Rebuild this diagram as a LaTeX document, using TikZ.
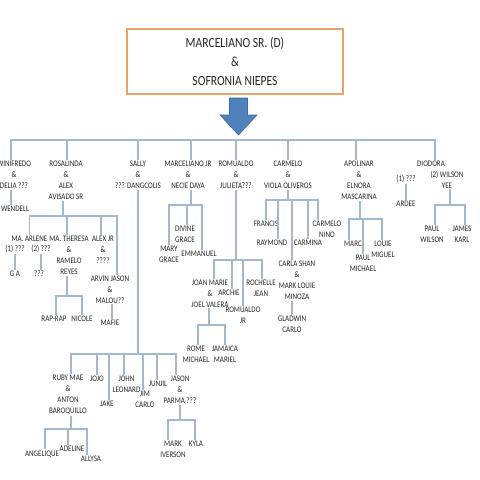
\documentclass[tikz,border=0pt]{standalone}
\usepackage{fontspec}
\setmainfont{Carlito}[FakeStretch=0.83]
\definecolor{linec}{HTML}{A2B8CE}
\definecolor{txtc}{HTML}{262626}
\definecolor{boxc}{HTML}{E8A56A}
\definecolor{arrf}{HTML}{4F81BD}
\definecolor{arrd}{HTML}{3B6AA0}
\begin{document}
\begin{tikzpicture}[x=1pt,y=-1pt,
  lbl/.style={font=\fontsize{8.5}{11}\selectfont, align=center, inner sep=1pt, text=txtc},
  conn/.style={draw=linec, line width=1.1pt}]
\useasboundingbox (0,0) rectangle (480,480);
\fill[white] (0,0) rectangle (480,480);

% top couple
\node[draw=boxc, line width=1.3pt, minimum width=216pt, minimum height=65pt, align=center,
      text=txtc, font=\fontsize{14}{19}\selectfont] (top) at (235,61.5)
      {MARCELIANO SR. (D)\\\&\\SOFRONIA NIEPES};
\fill[arrf, draw=arrd, line width=0.6pt] (229.5,98) -- (247.5,98) -- (247.5,115) -- (257,115)
      -- (238.5,135) -- (220,115) -- (229.5,115) -- cycle;

% first generation
\node[lbl] (win) at (14,175) {WINIFREDO\\\&\\DELIA ???};
\node[lbl] (ros) at (66,180.5) {ROSALINDA\\\&\\ALEX\\AVISADO SR};
\node[lbl] (sal) at (138,175) {SALLY\\\&\\??? DANGCOLIS};
\node[lbl] (mjr) at (188,175) {MARCELIANO JR\\\&\\NECIE DAYA};
\node[lbl] (rom) at (236,175) {ROMUALDO\\\&\\JULIETA???};
\node[lbl] (car) at (288,175) {CARMELO\\\&\\VIOLA OLIVEROS};
\node[lbl] (apo) at (359,180.5) {APOLINAR\\\&\\ELNORA\\MASCARINA};
\node[lbl] (dio) at (431,164) {DIODORA};
\node[lbl] (d1) at (406,179) {(1) ???};
\node[lbl] (d2) at (447,179.5) {(2) WILSON\\YEE};

% Winifredo
\node[lbl] (wendell) at (15,209) {WENDELL};
% Rosalinda
\node[lbl] (arl) at (29.5,239) {MA. ARLENE};
\node[lbl] (a1) at (15,249) {(1) ???};
\node[lbl] (a2) at (41,249) {(2) ???};
\node[lbl] (ga) at (15,274) {G A};
\node[lbl] (aq) at (39,274) {???};
\node[lbl] (the) at (69,255.5) {MA. THERESA\\\&\\RAMELO\\REYES};
\node[lbl] (ajr) at (103,249.5) {ALEX JR\\\&\\????};
\node[lbl] (arv) at (110,289.5) {ARVIN JASON\\\&\\MALOU??};
\node[lbl] (mafie) at (110,323) {MAFIE};
\node[lbl] (rap) at (54,319) {RAP-RAP};
\node[lbl] (nic) at (82,319) {NICOLE};
% Sally
\node[lbl] (ruby) at (68,395) {RUBY MAE\\\&\\ANTON\\BAROQUILLO};
\node[lbl] (jojo) at (97,379) {JOJO};
\node[lbl] (jake) at (107,404) {JAKE};
\node[lbl] (john) at (126.5,384.5) {JOHN\\LEONARD};
\node[lbl] (jim) at (145,399) {JIM\\CARLO};
\node[lbl] (junjil) at (158,384) {JUNJIL};
\node[lbl] (jason) at (180,390) {JASON\\\&\\PARMA ???};
\node[lbl] (angel) at (42,454) {ANGELIQUE};
\node[lbl] (adel) at (72,449) {ADELINE};
\node[lbl] (ally) at (91,459) {ALLYSA};
\node[lbl] (mark) at (173,449.5) {MARK\\IVERSON};
\node[lbl] (kyla) at (196,444) {KYLA};
% Marceliano Jr
\node[lbl] (divine) at (185,234.5) {DIVINE\\GRACE};
\node[lbl] (mary) at (169,254.5) {MARY\\GRACE};
\node[lbl] (emm) at (199,254) {EMMANUEL};
% Romualdo
\node[lbl] (joan) at (210,293.5) {JOAN MARIE\\\&\\JOEL VALERA};
\node[lbl] (archie) at (229,293) {ARCHIE};
\node[lbl] (romjr) at (243,315) {ROMUALDO\\JR};
\node[lbl] (roch) at (261,288) {ROCHELLE\\JEAN};
\node[lbl] (rome) at (196,354) {ROME\\MICHAEL};
\node[lbl] (jam) at (225,354) {JAMAICA\\MARIEL};
% Carmelo
\node[lbl] (francis) at (266,224) {FRANCIS};
\node[lbl] (raymond) at (272,243) {RAYMOND};
\node[lbl] (carla) at (297,280.5) {CARLA SHAN\\\&\\MARK LOUIE\\MINOZA};
\node[lbl] (carmina) at (308,243) {CARMINA};
\node[lbl] (cnino) at (327,229) {CARMELO\\NINO};
\node[lbl] (glad) at (292,324.5) {GLADWIN\\CARLO};
% Apolinar
\node[lbl] (marc) at (353,244) {MARC};
\node[lbl] (paul) at (363,263.5) {PAUL\\MICHAEL};
\node[lbl] (louie) at (383,249.5) {LOUIE\\MIGUEL};
% Diodora
\node[lbl] (ardee) at (406,204) {ARDEE};
\node[lbl] (pw) at (432,234) {PAUL\\WILSON};
\node[lbl] (jk) at (462,234) {JAMES\\KARL};

% main bar
\coordinate (jM) at (236,140);
\draw[conn] (jM) -| ([xshift=-3pt]win.north);
\draw[conn] (jM) -| ([xshift=1pt]ros.north);
\draw[conn] (jM) -| (sal.north);
\draw[conn] (jM) -| ([xshift=3pt]mjr.north);
\draw[conn] (jM) -- (rom.north);
\draw[conn] (jM) -| (car.north);
\draw[conn] (jM) -| ([xshift=-3pt]apo.north);
\draw[conn] (jM) -| ([xshift=4pt]dio.north);

% Winifredo
\draw[conn] ([xshift=-3pt]win.south) -- ([xshift=-3pt]win.south |- wendell.north);

% Rosalinda
\coordinate (jR) at (63,216);
\draw[conn] ([xshift=-3pt]ros.south) -- (jR);
\draw[conn] (jR) -| (arl.north);
\draw[conn] (jR) -| ([xshift=-2pt]the.north);
\draw[conn] (jR) -| ([xshift=-2pt]ajr.north);
\draw[conn] (jR) -| ([xshift=7pt]arv.north);
\draw[conn] (a1.south) -- (a1.south |- ga.north);
\draw[conn] (a2.south) -- (a2.south |- aq.north);
\coordinate (jT) at (67,296);
\draw[conn] ([xshift=-2pt]the.south) -- (jT);
\draw[conn] (jT) -| ([xshift=2pt]rap.north);
\draw[conn] (jT) -| (nic.north);
\draw[conn] ([xshift=2pt]arv.south) -- ([xshift=2pt]arv.south |- mafie.north);

% Sally
\coordinate (jS) at (138,354);
\draw[conn] (sal.south) -- (jS);
\draw[conn] (jS) -| ([xshift=3pt]ruby.north);
\draw[conn] (jS) -| (jojo.north);
\draw[conn] (jS) -| ([xshift=2pt]jake.north);
\draw[conn] (jS) -| ([xshift=-2.5pt]john.north);
\draw[conn] (jS) -| ([xshift=-2pt]jim.north);
\draw[conn] (jS) -| ([xshift=-1pt]junjil.north);
\draw[conn] (jS) -| ([xshift=-4pt]jason.north);
\coordinate (jRu) at (71,429);
\draw[conn] ([xshift=3pt]ruby.south) -- (jRu);
\draw[conn] (jRu) -| ([xshift=3pt]angel.north);
\draw[conn] (jRu) -| ([xshift=-4pt]adel.north);
\draw[conn] (jRu) -| ([xshift=-4pt]ally.north);
\coordinate (jJ) at (180,420);
\draw[conn] (jason.south) -- (jJ);
\draw[conn] (jJ) -| ([xshift=-5pt]mark.north);
\draw[conn] (jJ) -| ([xshift=-1pt]kyla.north);

% Marceliano Jr
\coordinate (jMJ) at (191,205);
\draw[conn] ([xshift=3pt]mjr.south) -- (jMJ);
\draw[conn] (jMJ) -| ([xshift=2pt]divine.north);
\draw[conn] (jMJ) -| (mary.north);
\draw[conn] (jMJ) -| ([xshift=3pt]emm.north);

% Romualdo
\coordinate (jRo) at (236,260);
\draw[conn] (rom.south) -- (jRo);
\draw[conn] (jRo) -| ([xshift=4pt]joan.north);
\draw[conn] (jRo) -| ([xshift=3pt]archie.north);
\draw[conn] (jRo) -| (romjr.north);
\draw[conn] (jRo) -| ([xshift=1pt]roch.north);
\coordinate (jJo) at (209,325);
\draw[conn] ([xshift=-1pt]joan.south) -- (jJo);
\draw[conn] (jJo) -| ([xshift=2pt]rome.north);
\draw[conn] (jJo) -| (jam.north);

% Carmelo
\coordinate (jC) at (288,200);
\draw[conn] (car.south) -- (jC);
\draw[conn] (jC) -| (francis.north);
\draw[conn] (jC) -| ([xshift=6pt]raymond.north);
\draw[conn] (jC) -| ([xshift=-5pt]carla.north);
\draw[conn] (jC) -| (carmina.north);
\draw[conn] (jC) -| ([xshift=-9pt]cnino.north);
\draw[conn] ([xshift=-5pt]carla.south) -- ([xshift=-5pt]carla.south |- glad.north);

% Apolinar
\coordinate (jA) at (360,219);
\draw[conn] ([xshift=1pt]apo.south) -- (jA);
\draw[conn] (jA) -| ([xshift=-4pt]marc.north);
\draw[conn] (jA) -| (paul.north);
\draw[conn] (jA) -| ([xshift=-1pt]louie.north);

% Diodora
\draw[conn] (d1.south) -- (d1.south |- ardee.north);
\coordinate (jD) at (450,205);
\draw[conn] ([xshift=3pt]d2.south) -- (jD);
\draw[conn] (jD) -| ([xshift=3pt]pw.north);
\draw[conn] (jD) -| ([xshift=3pt]jk.north);
\end{tikzpicture}
\end{document}
